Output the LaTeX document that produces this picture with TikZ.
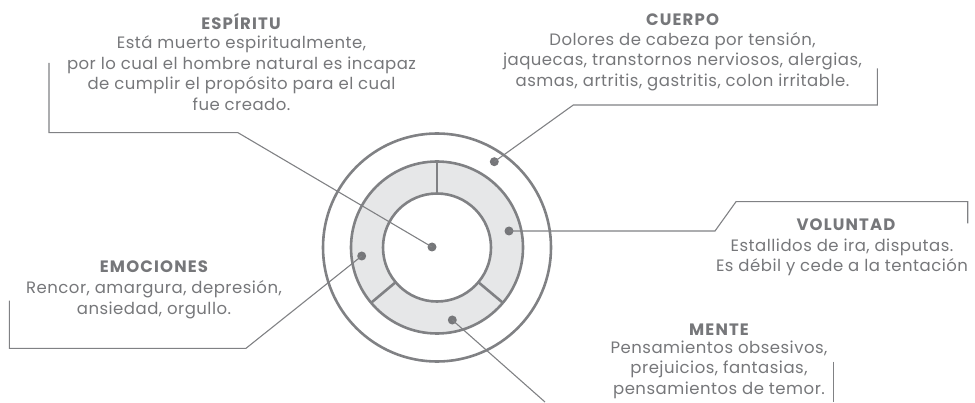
\documentclass[tikz,border=0pt]{standalone}
\usepackage{fontspec}
\setmainfont{Poppins}
\usetikzlibrary{positioning,calc}
\definecolor{linegray}{HTML}{808184}
\definecolor{ringgray}{HTML}{E6E7E8}
\definecolor{textgray}{HTML}{76777A}

\begin{document}
\begin{tikzpicture}[x=1pt,y=1pt,
    ring/.style={draw=linegray, line width=2.6pt},
    lead/.style={draw=linegray, line width=1.1pt},
    dot/.style={circle, fill=textgray, inner sep=0pt, minimum size=9pt},
    title/.style={text=textgray, inner sep=0pt, font=\fontsize{16.5}{17}\selectfont\bfseries\addfontfeatures{LetterSpace=7}},
    body/.style={text=textgray, inner sep=0pt, align=center, anchor=north, font=\fontsize{16.5}{20.5}\selectfont\addfontfeatures{LetterSpace=3}}]
    \useasboundingbox (0,0) rectangle (975,402);
    \coordinate (c) at (437,154.5);

    % rings
    \fill[ringgray, even odd rule] (c) circle [x radius=86, y radius=86] (c) circle [x radius=54, y radius=54];
    \draw[ring] (c) circle [x radius=114, y radius=114];
    \draw[ring] (c) circle [x radius=86, y radius=86];
    \draw[ring] (c) circle [x radius=54, y radius=54];
    \foreach \a in {90,-40,-140}
        \draw[ring] ($(c)+(\a:54)$) -- ($(c)+(\a:86)$);

    % dots
    \node[dot] (espiritu) at (432,155) {};
    \node[dot] (cuerpo) at (494.3,240.3) {};
    \node[dot] (voluntad) at (509,171) {};
    \node[dot] (emociones) at (361.7,146) {};
    \node[dot] (mente) at (452.3,82) {};

    % leaders
    \draw[lead] (espiritu.center) -- (238,269.3) -- (49,269.3) -- (49,339);
    \draw[lead] (cuerpo.center) -- (573.3,297) -- (877.3,297) -- (877.3,333.7);
    \draw[lead] (voluntad.center) -- (715,171) -- (736,200.3) -- (967.7,200.3) -- (967.7,178.7);
    \draw[lead] (emociones.center) -- (246,53.7) -- (9.3,53.7) -- (9.3,101.3);
    \coordinate (menteend) at (545,0);
    \coordinate (mentebar) at (833.3,40.3);
    \draw[lead] (mente.center) -- (menteend);
    \draw[lead] (mentebar) -- (833.3,0);

    % texts
    \node[title] (tespiritu) at (241,380) {ESPÍRITU};
    \node[body] (bespiritu) at (241.5,366.5) {Está muerto espiritualmente,\\por lo cual el hombre natural es incapaz\\de cumplir el propósito para el cual\\fue creado.};
    \node[title] (tcuerpo) at (682.5,382) {CUERPO};
    \node[body] (bcuerpo) at (682.5,370) {Dolores de cabeza por tensión,\\jaquecas, transtornos nerviosos, alergias,\\asmas, artritis, gastritis, colon irritable.};
    \node[title] (tvoluntad) at (846,177) {VOLUNTAD};
    \node[body] (bvoluntad) at (842,163.5) {Estallidos de ira, disputas.\\Es débil y cede a la tentación};
    \node[title] (tmente) at (719,72) {MENTE};
    \node[body] (bmente) at (719,61.5) {Pensamientos obsesivos,\\prejuicios, fantasias,\\pensamientos de temor.};
    \node[title] (temociones) at (154,135.3) {EMOCIONES};
    \node[body] (bemociones) at (154,121.5) {Rencor, amargura, depresión,\\ansiedad, orgullo.};
\end{tikzpicture}
\end{document}
